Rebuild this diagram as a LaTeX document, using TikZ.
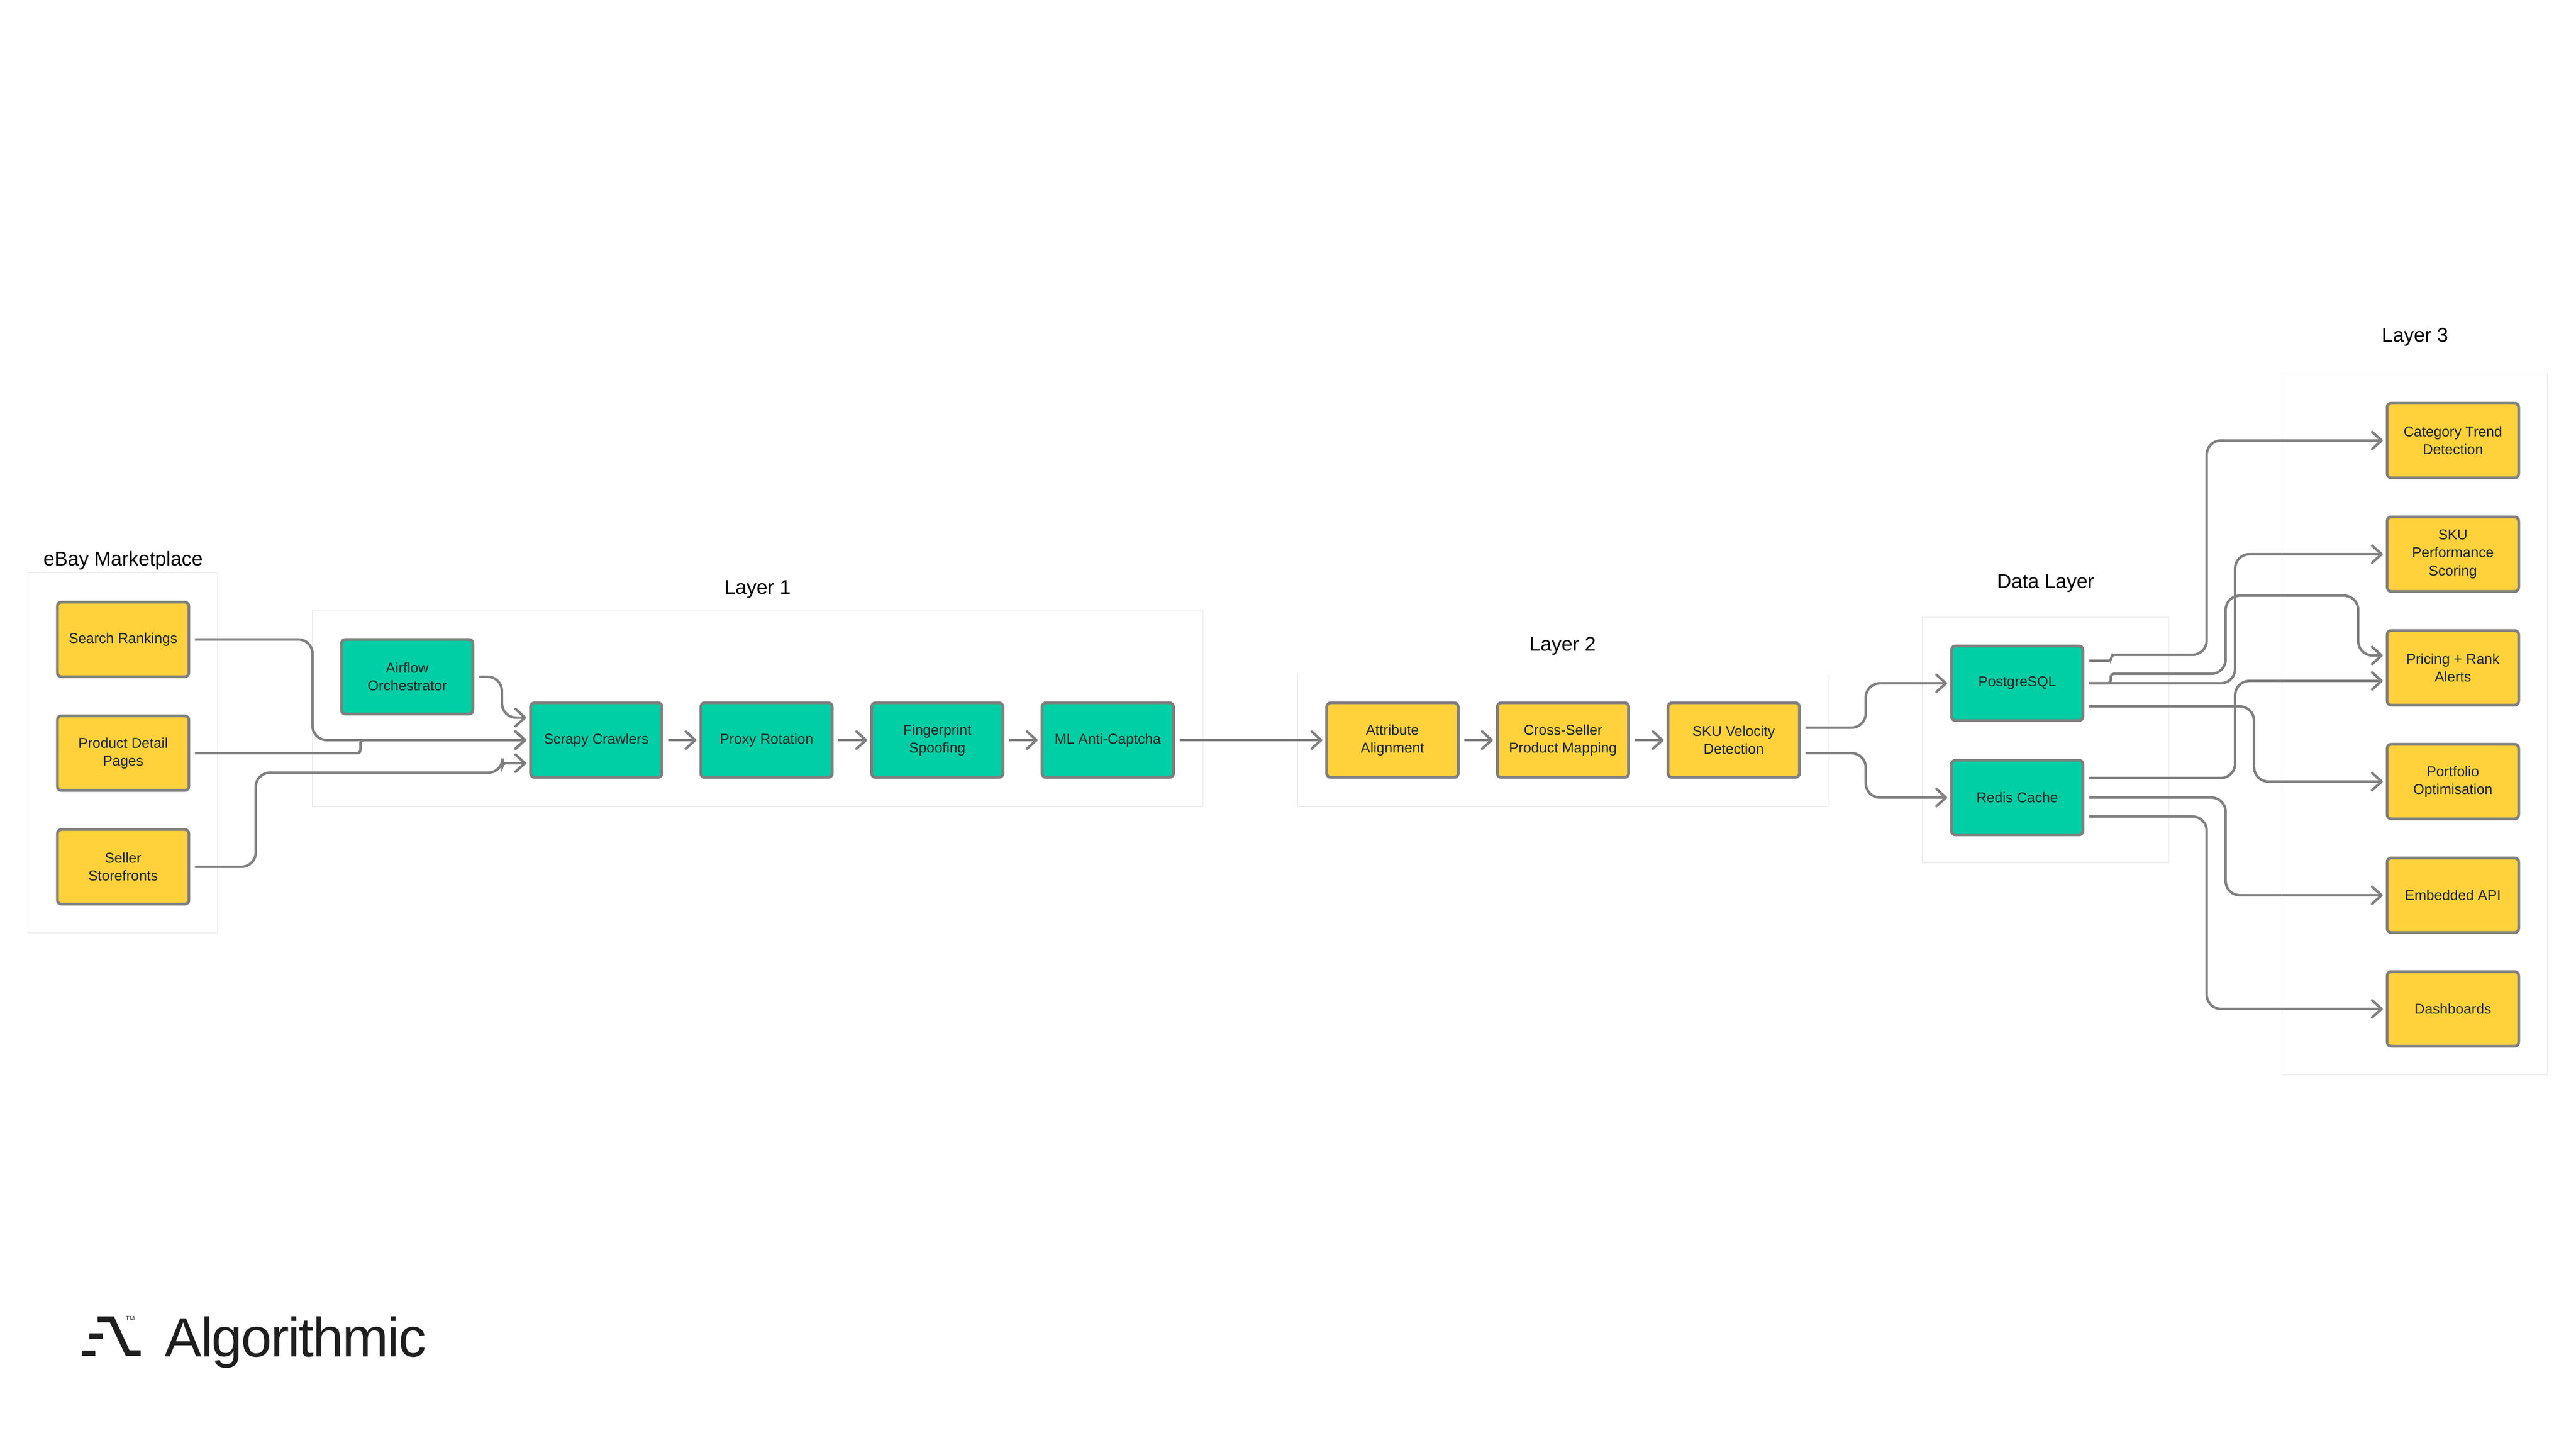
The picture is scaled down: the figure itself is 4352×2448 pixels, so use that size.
\documentclass[tikz,border=0pt]{standalone}
\usepackage{fontspec}
\setmainfont{Liberation Sans}
\newfontfamily\logofont[LetterSpace=-2.3]{Liberation Sans}
\usetikzlibrary{arrows.meta,calc}
\definecolor{boxyellow}{HTML}{FFD23C}
\definecolor{boxteal}{HTML}{00CFA5}
\definecolor{edgegray}{HTML}{7F7F7F}
\definecolor{groupline}{HTML}{E9E9E9}
\definecolor{inkdark}{HTML}{1C2424}
\definecolor{logoink}{HTML}{1E1E1E}
\tikzset{
  x=.01cm,y=-.01cm,
  card/.style={draw=edgegray,line width=1.35pt,rounded corners=.07cm,minimum width=2.22cm,minimum height=1.26cm,inner sep=0pt,align=center,text=inkdark,font=\fontsize{6.85}{8.67}\selectfont,execute at begin node={\\[-1.9pt]}},
  ycard/.style={card,fill=boxyellow},
  tcard/.style={card,fill=boxteal},
  groupbox/.style={draw=groupline,line width=.3pt,fill=white,inner sep=0pt,outer sep=0pt},
  grouptitle/.style={inner sep=0pt,text=black,font=\fontsize{9.56}{11}\selectfont},
  conn/.style={draw=edgegray,line width=1.2pt,rounded corners=.24cm,shorten >=-.03cm,-{Straight Barb[length=.16cm,width=.29cm,round]}},
  jog/.style={rounded corners=.05cm}
}
\begin{document}
\begin{tikzpicture}
\useasboundingbox (0,0) rectangle (4352,2448);
\fill[white] (0,0) rectangle (4352,2448);
% groups
\node[groupbox,minimum width=3.19cm,minimum height=6.07cm] (gebay) at (207.5,1271.5) {};
\node[groupbox,minimum width=15.04cm,minimum height=3.31cm] (gone) at (1280,1196.5) {};
\node[groupbox,minimum width=8.95cm,minimum height=2.23cm] (gtwo) at (2640.5,1250.5) {};
\node[groupbox,minimum width=4.16cm,minimum height=4.14cm] (gdata) at (3456,1250) {};
\node[groupbox,minimum width=4.47cm,minimum height=11.83cm] (gthree) at (4079.5,1223.5) {};
% titles
\node[grouptitle] (tebay) at (208,947) {eBay Marketplace};
\node[grouptitle] (tone) at (1280,995) {Layer 1};
\node[grouptitle] (ttwo) at (2640,1091) {Layer 2};
\node[grouptitle] (tdata) at (3456,985) {Data Layer};
\node[grouptitle] (tthree) at (4080,569) {Layer 3};
% sources
\node[ycard] (search) at (208,1080) {Search Rankings};
\node[ycard] (product) at (208,1272) {Product Detail\\Pages};
\node[ycard] (seller) at (208,1464) {Seller\\Storefronts};
% layer 1
\node[tcard] (airflow) at (688,1143) {Airflow\\Orchestrator};
\node[tcard] (scrapy) at (1007.5,1250) {Scrapy Crawlers};
\node[tcard] (proxy) at (1295,1250) {Proxy Rotation};
\node[tcard] (finger) at (1583.5,1250) {Fingerprint\\Spoofing};
\node[tcard] (mlcap) at (1871.5,1250) {ML Anti-Captcha};
% layer 2
\node[ycard] (attr) at (2352.5,1250) {Attribute\\Alignment};
\node[ycard] (cross) at (2640.5,1250) {Cross-Seller\\Product Mapping};
\node[ycard] (velocity) at (2929,1250) {SKU Velocity\\Detection};
% data
\node[tcard] (pg) at (3408,1154) {PostgreSQL};
\node[tcard] (redis) at (3408,1347) {Redis Cache};
% layer 3
\node[ycard] (trend) at (4144,744) {Category Trend\\Detection};
\node[ycard] (perf) at (4144,936) {SKU\\Performance\\Scoring};
\node[ycard] (alerts) at (4144,1128) {Pricing + Rank\\Alerts};
\node[ycard] (portfolio) at (4144,1320) {Portfolio\\Optimisation};
\node[ycard] (api) at (4144,1512) {Embedded API};
\node[ycard] (dash) at (4144,1704) {Dashboards};
% connectors: sources to crawlers
\draw[conn] ($(search.east)+(8,0)$) -- (528,1080) -- (528,1250) -- ($(scrapy.west)+(-8,0)$);
\draw[conn,jog] ($(product.east)+(8,0)$) -- (609,1272) -- (609,1250) -- ($(scrapy.west)+(-8,0)$);
\draw[conn] ($(seller.east)+(8,0)$) -- (432,1464) -- (432,1305) -- (849,1305) [jog] -- (849,1289) -- ($(scrapy.west)+(-8,39)$);
\draw[conn] ($(airflow.east)+(8,0)$) -- (848,1143) -- (848,1212) -- ($(scrapy.west)+(-8,-38)$);
% chain
\draw[conn] ($(scrapy.east)+(8,0)$) -- ($(proxy.west)+(-8,0)$);
\draw[conn] ($(proxy.east)+(8,0)$) -- ($(finger.west)+(-8,0)$);
\draw[conn] ($(finger.east)+(8,0)$) -- ($(mlcap.west)+(-8,0)$);
\draw[conn] ($(mlcap.east)+(8,0)$) -- ($(attr.west)+(-8,0)$);
\draw[conn] ($(attr.east)+(8,0)$) -- ($(cross.west)+(-8,0)$);
\draw[conn] ($(cross.east)+(8,0)$) -- ($(velocity.west)+(-8,0)$);
% into data
\draw[conn] ($(velocity.east)+(8,-21)$) -- (3152,1229) -- (3152,1154) -- ($(pg.west)+(-8,0)$);
\draw[conn] ($(velocity.east)+(8,22)$) -- (3152,1272) -- (3152,1347) -- ($(redis.west)+(-8,0)$);
% out of data
\draw[conn,jog] ($(pg.east)+(8,-38)$) -- (3567,1116) -- (3567,1106) [rounded corners=.24cm] -- (3728,1106) -- (3728,744) -- ($(trend.west)+(-8,0)$);
\draw[conn,jog] ($(pg.east)+(8,0)$) -- (3566,1154) -- (3566,1138) [rounded corners=.24cm] -- (3760,1138) -- (3760,1006) -- (3984,1006) -- (3984,1107) -- ($(alerts.west)+(-8,-21)$);
\draw[conn] ($(pg.east)+(8,0)$) -- (3776,1154) -- (3776,936) -- ($(perf.west)+(-8,0)$);
\draw[conn] ($(pg.east)+(8,39)$) -- (3808,1193) -- (3808,1320) -- ($(portfolio.west)+(-8,0)$);
\draw[conn] ($(redis.east)+(8,-33)$) -- (3776,1314) -- (3776,1150) -- ($(alerts.west)+(-8,22)$);
\draw[conn] ($(redis.east)+(8,0)$) -- (3760,1347) -- (3760,1512) -- ($(api.west)+(-8,0)$);
\draw[conn] ($(redis.east)+(8,32)$) -- (3728,1379) -- (3728,1704) -- ($(dash.west)+(-8,0)$);
% logo
\fill[logoink] (138,2281) rectangle (161,2290);
\fill[logoink] (151,2252) rectangle (174,2261.5);
\fill[logoink] (165,2223.4) -- (192.4,2223.4) -- (218.8,2280.7) -- (237.5,2280.7) -- (237.5,2290.2) -- (212.5,2290.2) -- (185.7,2233.3) -- (165,2233.3) -- cycle;
\node[inner sep=0pt,text=logoink,font=\fontsize{3}{3}\selectfont] (logotm) at (220,2227) {TM};
\node[inner sep=0pt,anchor=base west,text=logoink,font=\logofont\fontsize{26.6}{30}\selectfont] (logotext) at (278,2291) {Algorithmic};
\end{tikzpicture}
\end{document}
